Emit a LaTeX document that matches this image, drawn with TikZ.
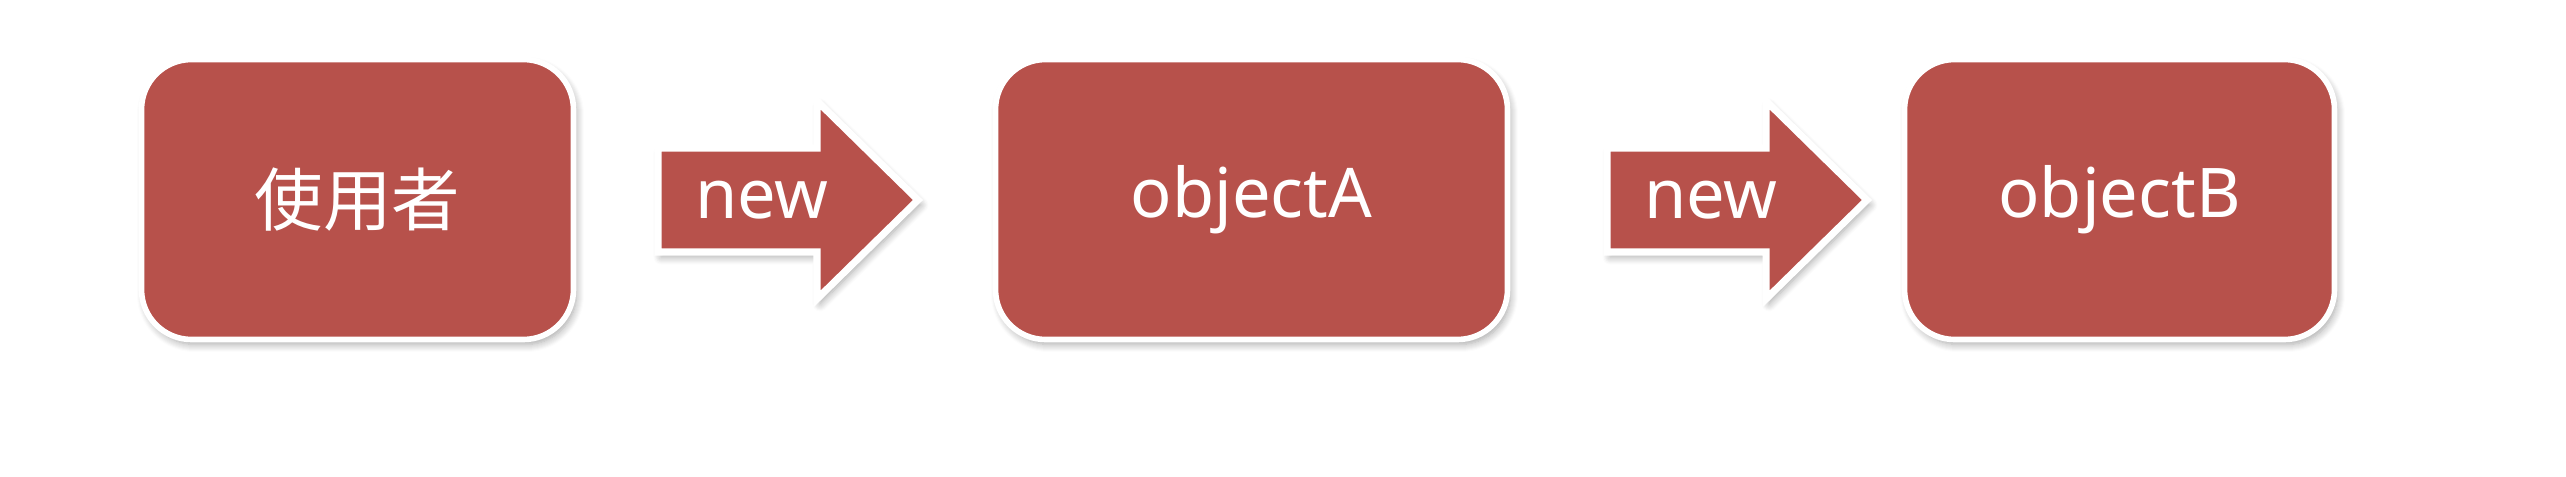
\documentclass[tikz,border=0pt]{standalone}
\usepackage{fontspec}
\setmainfont{Noto Sans}
\newfontfamily\cjk{Noto Sans CJK TC}
\usetikzlibrary{shadows.blur}
\definecolor{boxred}{RGB}{183,81,75}

\tikzset{
  softshadow/.style={blur shadow={shadow xshift=0.03cm, shadow yshift=-0.05cm, shadow blur steps=8, shadow opacity=35}},
  objbox/.style={draw=white, line width=1.6pt, fill=boxred, rounded corners=0.5cm,
    minimum height=2.8cm, text=white, font=\fontsize{19.5}{23}\selectfont, softshadow},
  newarrow/.style={draw=white, line width=2pt, fill=boxred, line join=miter, softshadow},
  newlabel/.style={text=white, font=\fontsize{19.5}{23}\selectfont}
}

\begin{document}
\begin{tikzpicture}
    \useasboundingbox (0,0) rectangle (25.66,4.76);
    % the three boxes
    \node[objbox, minimum width=4.32cm] (user) at (3.575,2.765) {\cjk 使用者};
    \node[objbox, minimum width=5.12cm] (objA) at (12.515,2.765) {objectA};
    \node[objbox, minimum width=4.30cm] (objB) at (21.195,2.765) {objectB};
    % block arrows between them
    \foreach \t [count=\i] in {6.58,16.07} {
      \coordinate (tail\i) at (\t,2.76);
      \filldraw[newarrow] (tail\i) ++(0,0.52) -- ++(1.59,0) -- ++(0,0.47) -- ++(1.01,-0.99)
        -- ++(-1.01,-0.99) -- ++(0,0.47) -- ++(-1.59,0) -- cycle;
      \node[newlabel] (new\i) at (\t+1.04,2.76) {new};
    }
  \end{tikzpicture}
\end{document}
